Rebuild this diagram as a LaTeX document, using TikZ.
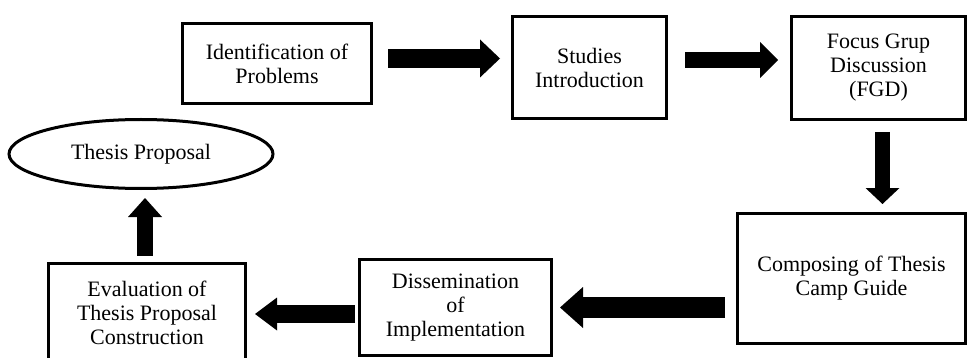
\documentclass[tikz,border=0pt]{standalone}
\usepackage{fontspec}
\setmainfont{Liberation Serif}
\usetikzlibrary{arrows.meta,shapes.geometric}
\begin{document}
\begin{tikzpicture}[x=1pt,y=-1pt,line width=3pt,
box/.style={draw,rectangle,align=center,inner sep=0pt,font=\fontsize{22}{24}\selectfont},
blk/.style args={#1/#2/#3}{line width=#1pt,-{Triangle[width=#2pt,length=#3pt,line width=0pt]}}]
\useasboundingbox (0,0) rectangle (968,358);
\node[box,minimum width=189pt,minimum height=80pt] (idp) at (277,63.5) {Identification of\\Problems};
\node[box,minimum width=154pt,minimum height=102pt] (sti) at (589.5,67.5) {Studies\\Introduction};
\node[box,minimum width=174pt,minimum height=103pt] (fgd) at (878.5,68) {Focus Grup\\Discussion\\(FGD)};
\node[box,minimum width=228pt,minimum height=130pt] (cmp) at (851.5,278.5) {Composing of Thesis\\Camp Guide};
\node[box,minimum width=192pt,minimum height=96pt] (dis) at (455.5,307.5) {Dissemination\\of\\Implementation};
\node[box,minimum width=197pt,minimum height=100pt] (evl) at (147,313) {Evaluation of\\Thesis Proposal\\Construction};
\node[box,ellipse,minimum width=264pt,minimum height=69pt] (tp) at (141,154) {Thesis Proposal};
% block arrows
\draw[blk=19/38/20,shorten <=15pt,shorten >=11pt]([yshift=5pt]idp.east)--([yshift=9pt]sti.west);
\draw[blk=16/36/18,shorten <=17pt,shorten >=12pt]([yshift=7.5pt]sti.east)--([yshift=8pt]fgd.west);
\draw[blk=15/34/16,shorten <=11pt,shorten >=8pt]([xshift=4pt]fgd.south)--([xshift=31pt]cmp.north);
\draw[blk=21/41/23,shorten <=11pt,shorten >=7pt]([yshift=-29pt]cmp.west)--(dis.east);
\draw[blk=18/33/22,shorten <=3pt,shorten >=8pt]([yshift=-6.5pt]dis.west)--([yshift=-1pt]evl.east);
\draw[blk=16/34/19,shorten <=6pt,shorten >=8pt]([xshift=-2pt]evl.north)--([xshift=4pt]tp.south);
\end{tikzpicture}
\end{document}
